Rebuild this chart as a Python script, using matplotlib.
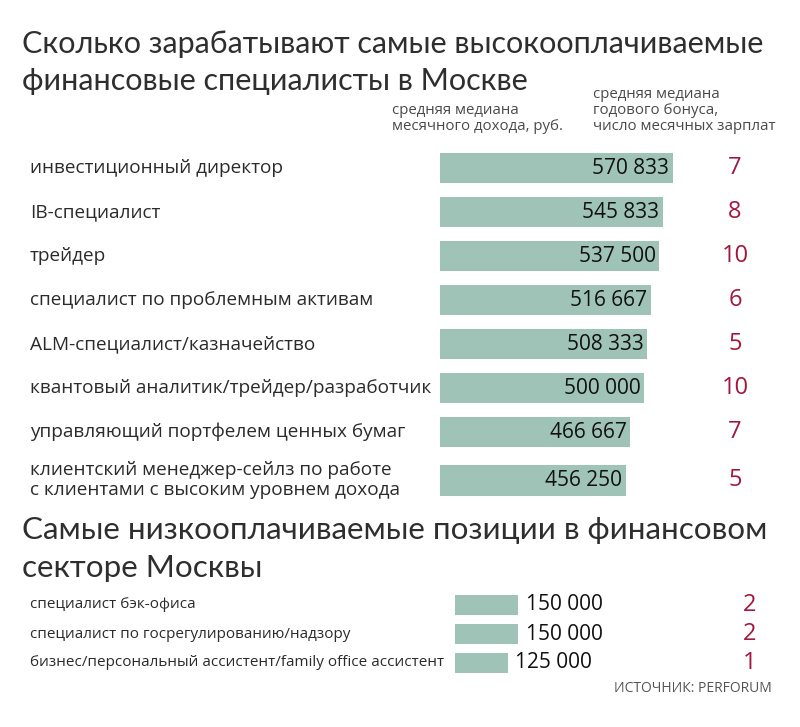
import numpy as np
import matplotlib
matplotlib.use("Agg")
import matplotlib.pyplot as plt
from matplotlib.transforms import blended_transform_factory

plt.rcParams['font.family'] = ['Open Sans', 'DejaVu Sans']

# --- ДАННЫЕ ---
top_jobs = ["инвестиционный директор",
            "IB-специалист",
            "трейдер",
            "специалист по проблемным активам",
            "ALM-специалист/казначейство",
            "квантовый аналитик/трейдер/разработчик",
            "управляющий портфелем ценных бумаг",
            "клиентский менеджер-сейлз по работе\nс клиентами с высоким уровнем дохода"]
top_income = [570833, 545833, 537500, 516667, 508333, 500000, 466667, 456250]
top_bonus = [7, 8, 10, 6, 5, 10, 7, 5]

low_jobs = ["специалист бэк-офиса",
            "специалист по госрегулированию/надзору",
            "бизнес/персональный ассистент/family office ассистент"]
low_income = [150000, 150000, 125000]
low_bonus = [2, 2, 1]

title_top = ["Сколько зарабатывают самые высокооплачиваемые",
             "финансовые специалисты в Москве"]
title_low = ["Самые низкооплачиваемые позиции в финансовом",
             "секторе Москвы"]
head_income = "средняя медиана\nмесячного дохода, руб."
head_bonus = "средняя медиана\nгодового бонуса,\nчисло месячных зарплат"
source = "ИСТОЧНИК: PERFORUM"

bar_color = "#9fc3b7"
red = "#a3173f"
txt = "#2b2b2b"

W, H = 800, 727
fig = plt.figure(figsize=(W / 100, H / 100), dpi=100)
fig.patch.set_facecolor("white")


def fx(x):
    return x / W


def fy(y):
    return 1 - y / H


def fmt(v):
    return f"{v:,}".replace(",", " ")


# --- ВЕРХНИЙ БЛОК ---
ax1 = fig.add_axes([fx(440), fy(502.4), fx(340), (502.4 - 146) / H])
ypos = np.arange(len(top_jobs), dtype=float)
ypos[-1] += 0.1
ax1.barh(ypos, top_income, height=0.7, color=bar_color)
ax1.set_xlim(0, 340 / 0.000408)
ax1.set_ylim(7.6, -0.5)
ax1.axis("off")

tr1 = blended_transform_factory(fig.transFigure, ax1.transData)
for y, job, v, b in zip(ypos, top_jobs, top_income, top_bonus):
    fig.text(fx(30), y, job, transform=tr1, ha="left", va="center",
             fontsize=13.7, color=txt, linespacing=1.15)
    ax1.text(v - 9000, y, fmt(v), ha="right", va="center",
             fontsize=15, color="#111111", fontweight="medium")
    fig.text(fx(735), y, str(b), transform=tr1, ha="center", va="center",
             fontsize=17, color=red)

# --- НИЖНИЙ БЛОК ---
ax2 = fig.add_axes([fx(455), fy(677.5), fx(325), 87 / H])
ypos2 = np.arange(len(low_jobs))
ax2.barh(ypos2, low_income, height=0.72, color=bar_color)
ax2.set_xlim(0, 325 / 0.00042)
ax2.set_ylim(2.5, -0.5)
ax2.axis("off")

tr2 = blended_transform_factory(fig.transFigure, ax2.transData)
for y, job, v, b in zip(ypos2, low_jobs, low_income, low_bonus):
    fig.text(fx(30), y, job, transform=tr2, ha="left", va="center",
             fontsize=11, color=txt)
    ax2.text(v + 19000, y, fmt(v), ha="left", va="center",
             fontsize=15, color="#111111", fontweight="medium")
    fig.text(fx(750), y, str(b), transform=tr2, ha="center", va="center",
             fontsize=17, color=red)

# --- ЗАГОЛОВКИ ---
title_font = ['Lato', 'Open Sans', 'DejaVu Sans']
for line, base in zip(title_top, [53, 90]):
    fig.text(fx(22), fy(base), line, ha="left", va="baseline", family=title_font,
             fontsize=22, color="#2e2e2e")
for line, base in zip(title_low, [539, 577]):
    fig.text(fx(22), fy(base), line, ha="left", va="baseline", family=title_font,
             fontsize=22.6, color="#2e2e2e")
fig.text(fx(392), fy(130), head_income, ha="left", va="baseline",
         fontsize=10.8, color="#4a4a4a", linespacing=1.1)
fig.text(fx(593), fy(130), head_bonus, ha="left", va="baseline",
         fontsize=10.8, color="#4a4a4a", linespacing=1.1)
fig.text(fx(772), fy(692), source, ha="right", va="baseline",
         fontsize=10, color="#555555")

fig.savefig("out.png", dpi=100, facecolor="white")
